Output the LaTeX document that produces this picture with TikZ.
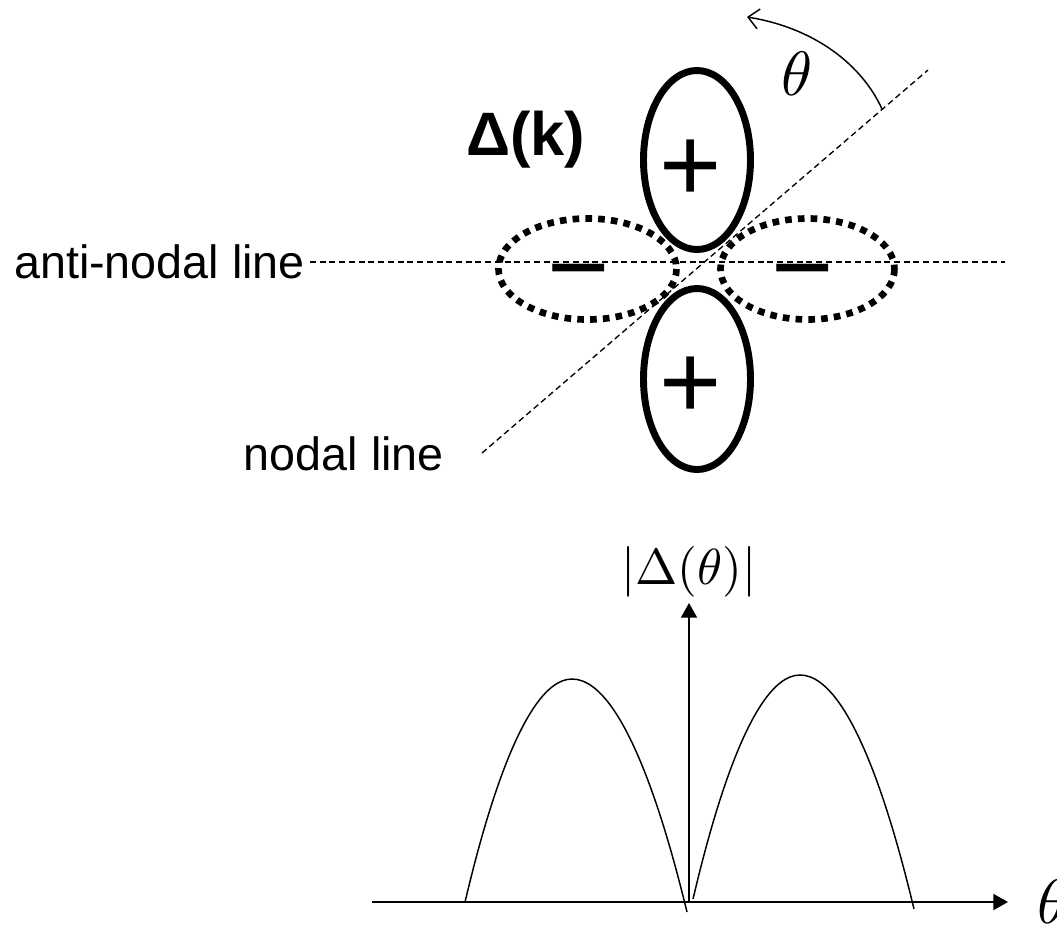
\documentclass[tikz,border=0pt]{standalone}
\usepackage{graphicx}
\usepackage{fontspec}
\setmainfont{Liberation Sans}
\usetikzlibrary{arrows.meta}
\begin{document}
\begin{tikzpicture}[x=0.75pt,y=-0.75pt,
  lobe/.style={line width=5.2pt},
  neglobe/.style={line width=5pt, dash pattern=on 5pt off 4.6pt},
  guide/.style={line width=1pt, dash pattern=on 4.5pt off 2.8pt},
  thinline/.style={line width=1.1pt},
  axis/.style={line width=1.4pt, -{Triangle[length=11pt,width=12pt]}},
  lbl/.style={font=\fontsize{35}{40}\selectfont, inner sep=0pt},
  sign/.style={font=\fontsize{80}{90}\selectfont, inner sep=0pt, anchor=base},
  mathlbl/.style={inner sep=0pt},
]
\useasboundingbox (0,0) rectangle (1057,926);
% guide lines
\coordinate (al1) at (310,262);
\coordinate (al2) at (1005,262);
\coordinate (nl1) at (482,453);
\coordinate (nl2) at (928,70);
\draw[guide] (al1) -- (al2);
\draw[guide] (nl1) -- (nl2);
% lobes
\draw[neglobe] (587.5,269) ellipse [x radius=89, y radius=50.5];
\draw[neglobe] (807.5,269) ellipse [x radius=87, y radius=50.5];
\draw[lobe] (697,160) ellipse [x radius=53.5, y radius=89.5];
\draw[lobe] (697,379) ellipse [x radius=53.5, y radius=90.5];
% signs
\node[sign] (p1) at (691,201) {+};
\node[sign] (p2) at (691,418) {+};
\node[sign] (m1) at (578.5,303) {−};
\node[sign] (m2) at (802.5,303) {−};
% labels
\node[lbl, anchor=base east] (anti) at (305,278) {anti-nodal line};
\node[lbl, anchor=base east] (nodal) at (444,470) {nodal line};
\node[font=\bfseries\fontsize{46}{52}\selectfont, inner sep=0pt, anchor=base west] (dk) at (466,155) {Δ(k)};
% rotation arrow
\coordinate (rs) at (882,109);
\coordinate (re) at (747,17);
\draw[thinline, -{Straight Barb[length=8pt,width=15pt]}] (rs) .. controls (862,65) and (815,28) .. (re);
\node[mathlbl] (th) at (797,74) {\scalebox{4.7}{$\theta$}};
% graph
\coordinate (o) at (689,902);
\coordinate (xs) at (372,902);
\coordinate (xe) at (1008,902);
\coordinate (ye) at (689,603);
\draw[axis] (xs) -- (xe);
\draw[axis] (o) -- (ye);
\node[mathlbl, anchor=south] (dt) at (689,597) {\scalebox{3.8}{$|\Delta(\theta)|$}};
\node[mathlbl, anchor=west] (tx) at (1037,902) {\scalebox{4.7}{$\theta$}};
\draw[thinline] (465,902) parabola bend (572,679) (687,912);
\draw[thinline] (693,899) parabola bend (800,675) (914,909);
\end{tikzpicture}
\end{document}
